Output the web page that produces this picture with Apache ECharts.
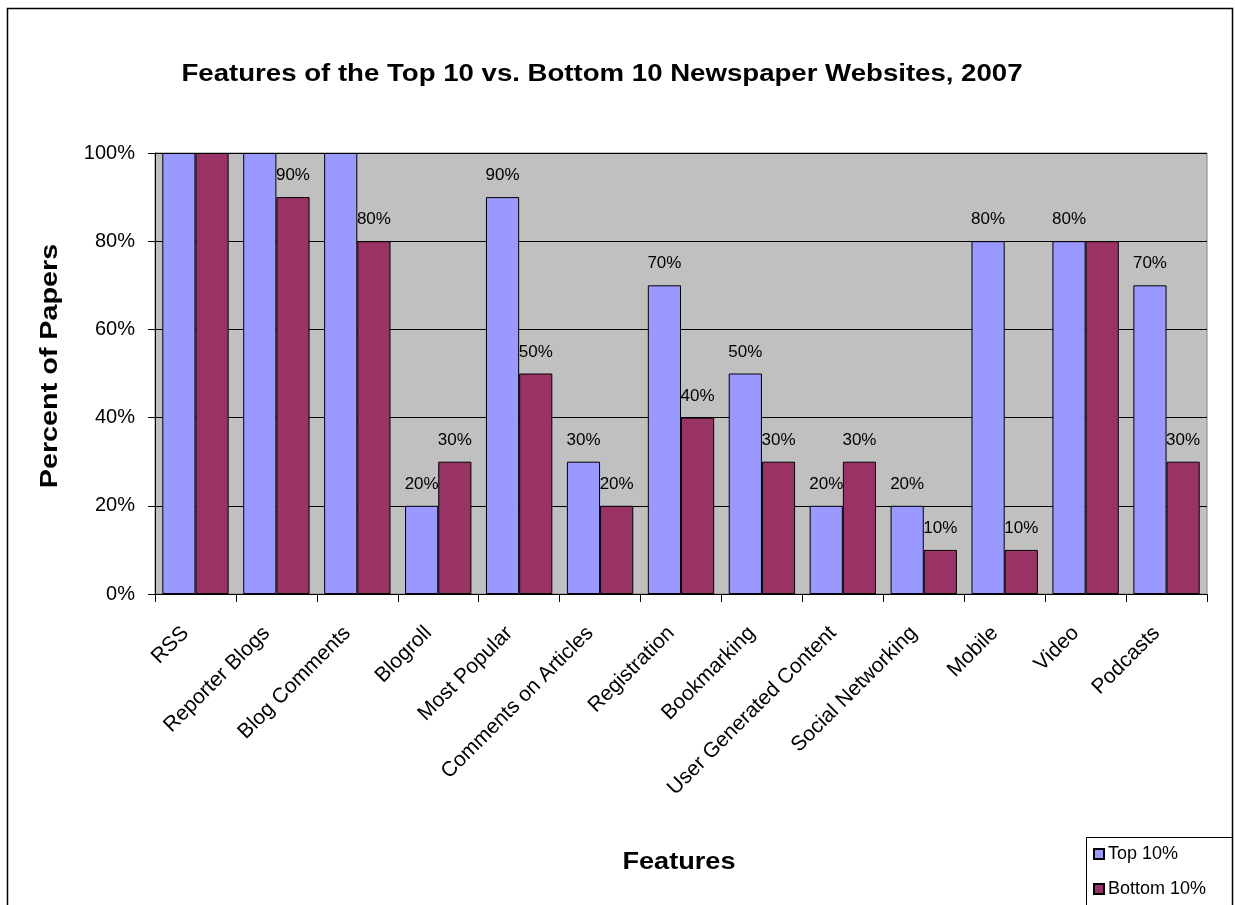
<!DOCTYPE html>
<html>
<head>
<meta charset="utf-8">
<script src="https://cdn.jsdelivr.net/npm/echarts@6/dist/echarts.min.js"></script>
<style>
  html, body { margin: 0; padding: 0; background: #fff; }
  #chart { width: 1235px; height: 905px; }
</style>
</head>
<body>
<div id="chart"></div>
<script>
// Feature categories along the x axis
const categories = [
  'RSS', 'Reporter Blogs', 'Blog Comments', 'Blogroll', 'Most Popular',
  'Comments on Articles', 'Registration', 'Bookmarking', 'User Generated Content',
  'Social Networking', 'Mobile', 'Video', 'Podcasts'
];
// Percent of papers offering each feature
const top10 = [100, 100, 100, 20, 90, 30, 70, 50, 20, 20, 80, 80, 70];
const bottom10 = [100, 90, 80, 30, 50, 20, 40, 30, 30, 10, 10, 80, 30];
const yTicks = [0, 20, 40, 60, 80, 100];

const chartTitle = 'Features of the Top 10 vs. Bottom 10 Newspaper Websites, 2007';
const xTitle = 'Features';
const yTitle = 'Percent of Papers';

const FONT = '"Liberation Sans", Arial, sans-serif';

// Values at the top of the scale have no room for a label above the plot
const labelFmt = p => (p.value >= 100 ? '' : p.value + '%');

// Wide-set bold heading text
function heading(text, x, y, size, stretch, rotation) {
  return {
    type: 'text', silent: true,
    x: x, y: y, rotation: rotation || 0, scaleX: stretch,
    style: {
      text: text, font: 'bold ' + size + 'px ' + FONT, fill: '#000',
      align: 'center', verticalAlign: 'middle'
    }
  };
}

const chart = echarts.init(document.getElementById('chart'), null, { renderer: 'canvas' });
chart.setOption({
  backgroundColor: '#ffffff',
  animation: false,
  legend: {
    orient: 'vertical',
    left: 1093, top: 845, height: 70,
    padding: 0,
    itemGap: 17,
    itemWidth: 10, itemHeight: 10,
    icon: 'rect',
    textStyle: { fontFamily: FONT, fontSize: 18, color: '#000', padding: [0, 0, 0, -1] },
    data: ['Top 10%', 'Bottom 10%']
  },
  grid: {
    left: 155, right: 28, top: 153, bottom: 311,
    show: true, backgroundColor: '#C0C0C0', borderColor: '#808080', borderWidth: 1
  },
  xAxis: {
    type: 'category',
    data: categories,
    axisLine: { lineStyle: { color: '#000', width: 1 } },
    axisTick: { show: true, length: 8, lineStyle: { color: '#000' } },
    axisLabel: {
      interval: 0, rotate: 45, margin: 26, padding: [0, 14, 0, 0],
      fontFamily: FONT, fontSize: 21, color: '#000'
    }
  },
  yAxis: {
    type: 'value',
    min: yTicks[0], max: yTicks[yTicks.length - 1], interval: 20,
    axisLine: { show: true, lineStyle: { color: '#000', width: 1 } },
    axisTick: { show: true, length: 7, lineStyle: { color: '#000' } },
    axisLabel: {
      margin: 20, formatter: '{value}%',
      fontFamily: FONT, fontSize: 20, color: '#000'
    },
    splitLine: { show: true, lineStyle: { color: '#000', width: 1 } }
  },
  series: [
    {
      name: 'Top 10%', type: 'bar', data: top10,
      barGap: '0%', barCategoryGap: '18%',
      itemStyle: { color: '#9999FF', borderColor: '#000', borderWidth: 1 },
      label: {
        show: true, position: 'top', distance: 13, formatter: labelFmt,
        fontFamily: FONT, fontSize: 17, color: '#000'
      },
      labelLayout: { hideOverlap: true }
    },
    {
      name: 'Bottom 10%', type: 'bar', data: bottom10,
      itemStyle: { color: '#993366', borderColor: '#000', borderWidth: 1 },
      label: {
        show: true, position: 'top', distance: 13, formatter: labelFmt,
        fontFamily: FONT, fontSize: 17, color: '#000'
      },
      labelLayout: { hideOverlap: true }
    }
  ],
  graphic: [
    {
      // legend frame, its right side meets the outer frame
      type: 'rect', silent: true, z: -1,
      shape: { x: 1086.5, y: 837.5, width: 146, height: 100 },
      style: { fill: '#fff', stroke: '#000', lineWidth: 1 }
    },
    {
      type: 'rect', silent: true, z: -1,
      shape: { x: 7.5, y: 8.5, width: 1225, height: 1000 },
      style: { fill: 'none', stroke: '#000', lineWidth: 1.5 }
    },
    heading(chartTitle, 602, 75, 23, 1.2, 0),
    heading(xTitle, 679, 862, 24, 1.13, 0),
    heading(yTitle, 51, 366, 23, 1.25, Math.PI / 2)
  ]
});
</script>
</body>
</html>
